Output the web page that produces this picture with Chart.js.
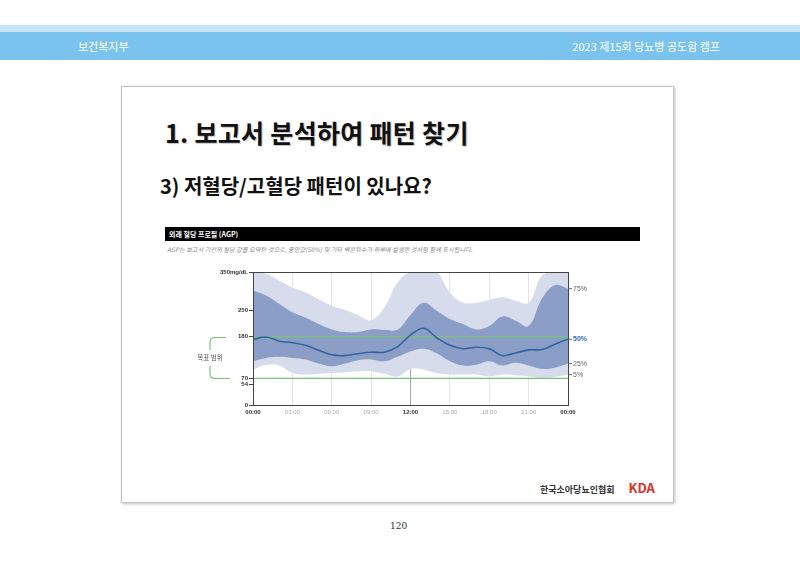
<!DOCTYPE html>
<html>
<head>
<meta charset="utf-8">
<script src="https://cdn.jsdelivr.net/npm/chart.js@4.4.1/dist/chart.umd.min.js"></script>
<style>
  body { margin: 0; width: 800px; height: 566px; background: #fff; position: relative; overflow: hidden;
         font-family: "Noto Sans CJK KR", "Noto Sans", sans-serif; }
  .strip { position: absolute; left: 0; top: 25px; width: 800px; height: 7px; background: #c6e5f8; }
  .band { position: absolute; left: 0; top: 32px; width: 800px; height: 28px; background: #7ac3ee; color: #fff; font-size: 11px; }
  .band .l { position: absolute; left: 78px; top: 6px; }
  .band .r { position: absolute; right: 80px; top: 6px; }
  .slide { position: absolute; left: 121px; top: 86px; width: 551px; height: 415px; border: 1px solid #c4c4c4;
           box-shadow: 1px 1px 3px rgba(0,0,0,0.25); background: #fff; }
  .title { position: absolute; left: 165px; top: 119px; font-size: 25px; font-weight: bold; color: #111;
           text-shadow: 1px 1px 1px rgba(0,0,0,0.25); letter-spacing: 0.3px; line-height: 1.1; }
  .sub { position: absolute; left: 160px; top: 175px; font-size: 20px; font-weight: bold; color: #111; line-height: 1.1; }
  .bar { position: absolute; left: 165px; top: 227px; width: 475px; height: 14px; background: #000; color: #fff;
         font-size: 7px; font-weight: bold; line-height: 14px; padding-left: 4px; box-sizing: border-box; }
  .note { position: absolute; left: 167px; top: 245px; font-size: 6.1px; font-style: italic; color: #888; letter-spacing: 0.1px; }
  .logo { position: absolute; left: 540px; top: 478px; font-size: 9px; color: #333; font-weight: bold; }
  .logo .k { color: #d9302a; font-size: 13px; font-weight: bold; margin-left: 14px; }
  .page { position: absolute; left: 390px; top: 521px; font-size: 9px; font-family: "DejaVu Serif", serif; color: #333; }
  #wrap { position: absolute; left: 160px; top: 262px; width: 440px; height: 160px; }
</style>
</head>
<body>
<div class="strip"></div>
<div class="band"><span class="l">보건복지부</span><span class="r">2023 제15회 당뇨병 공도함 캠프</span></div>
<div class="slide"></div>
<div class="title">1. 보고서 분석하여 패턴 찾기</div>
<div class="sub">3) 저혈당/고혈당 패턴이 있나요?</div>
<div class="bar">외래 혈당 프로필 (AGP)</div>
<div class="note">AGP는 보고서 기간의 혈당 값을 요약한 것으로, 중앙값(50%) 및 기타 백분위수가 하루에 발생한 것처럼 함께 표시됩니다.</div>
<div class="logo">한국소아당뇨인협회<span class="k">KDA</span></div>
<div class="page">120</div>
<div id="wrap"><canvas id="agp" width="440" height="160"></canvas></div>
<script>
// hours of the day and glucose percentiles (mg/dL)
const hours  = [0, 1, 2, 3, 4, 5, 6, 7, 8, 9, 10, 11, 12, 13, 14, 15, 16, 17, 18, 19, 20, 21, 22, 23, 24];
const p95    = [350, 346, 328, 310, 297, 279, 262, 251, 237, 224, 257, 323, 350, 350, 350, 297, 270, 270, 277, 284, 275, 270, 341, 350, 350];
const p75    = [301, 288, 266, 244, 230, 213, 199, 192, 192, 199, 198, 198, 237, 269, 248, 226, 213, 199, 208, 233, 222, 208, 279, 315, 306];
const median = [173, 179, 168, 164, 157, 144, 132, 130, 135, 139, 139, 153, 184, 202, 177, 157, 148, 152, 148, 130, 137, 145, 146, 160, 173];
const p25    = [115, 124, 127, 124, 120, 109, 102, 109, 118, 120, 115, 127, 141, 148, 136, 115, 104, 106, 115, 104, 111, 104, 95, 98, 109];
const p5     = [93, 106, 104, 84, 80, 82, 84, 86, 89, 89, 82, 75, 95, 93, 84, 80, 80, 80, 75, 80, 78, 75, 71, 74, 80];
const yTicks = [0, 54, 70, 180, 250, 350];
const targetHigh = 180;
const targetLow = 70;

const pts = arr => arr.map((v, i) => ({ x: hours[i], y: v }));
const flat = v => [{ x: hours[0], y: v }, { x: hours[hours.length - 1], y: v }];
const last = arr => arr[arr.length - 1];
const isMain = c => !!(c && c.tick && c.tick.value % 12 === 0);
const green = '#78c27a';

// plot box, target bracket and percentile labels
const agpDecor = {
    id: 'agpDecor',
    afterDraw(chart) {
        const { ctx, chartArea: a, scales: { y } } = chart;
        ctx.save();
        ctx.strokeStyle = '#444';
        ctx.lineWidth = 1;
        ctx.strokeRect(a.left + 0.5, a.top + 0.5, a.right - a.left, a.bottom - a.top);

        // bracket for target range
        const yh = Math.round(y.getPixelForValue(targetHigh)) + 0.5;
        const yl = Math.round(y.getPixelForValue(targetLow)) + 0.5;
        const bx = 50, r = 5, mid = (yh + yl) / 2;
        ctx.strokeStyle = green;
        ctx.lineWidth = 1.2;
        ctx.beginPath();
        ctx.moveTo(bx + 16, yh);
        ctx.lineTo(bx + r, yh);
        ctx.quadraticCurveTo(bx, yh, bx, yh + r);
        ctx.lineTo(bx, mid - 8);
        ctx.moveTo(bx, mid + 8);
        ctx.lineTo(bx, yl - r);
        ctx.quadraticCurveTo(bx, yl, bx + r, yl);
        ctx.lineTo(bx + 20, yl);
        ctx.stroke();
        ctx.fillStyle = '#555';
        ctx.font = '6.5px "Noto Sans CJK KR"';
        ctx.textAlign = 'center';
        ctx.textBaseline = 'middle';
        ctx.fillText('목표 범위', bx, mid);

        // percentile labels on the right
        const labels = [['75%', last(p75)], ['50%', last(median)], ['25%', last(p25)], ['5%', last(p5)]];
        ctx.textAlign = 'left';
        labels.forEach(([t, v]) => {
            const py = y.getPixelForValue(v);
            const is50 = t === '50%';
            ctx.strokeStyle = '#666';
            ctx.lineWidth = 1;
            ctx.beginPath();
            ctx.moveTo(a.right, py);
            ctx.lineTo(a.right + 4, py);
            ctx.stroke();
            ctx.fillStyle = is50 ? '#2d6aae' : '#666';
            ctx.font = (is50 ? 'bold ' : '') + '7px "Liberation Sans"';
            ctx.fillText(t, a.right + 5, py);
        });
        ctx.restore();
    }
};

new Chart(document.getElementById('agp'), {
    type: 'line',
    data: {
        datasets: [
            { label: '50%', data: pts(median), borderColor: '#33649f', borderWidth: 1.6, pointRadius: 0, tension: 0.4, fill: false },
            { label: 'high', data: flat(targetHigh), borderColor: green, borderWidth: 1.2, pointRadius: 0, fill: false },
            { label: 'low', data: flat(targetLow), borderColor: green, borderWidth: 1.2, pointRadius: 0, fill: false },
            { label: '75%', data: pts(p75), borderWidth: 0, pointRadius: 0, tension: 0.4, fill: 4, backgroundColor: '#8b9ec8' },
            { label: '25%', data: pts(p25), borderWidth: 0, pointRadius: 0, tension: 0.4, fill: false },
            { label: '95%', data: pts(p95), borderColor: 'rgba(255,255,255,0.9)', borderDash: [1.5, 1.5], borderWidth: 1,
              pointRadius: 0, tension: 0.4, fill: 6, backgroundColor: '#d7dcec' },
            { label: '5%', data: pts(p5), borderColor: 'rgba(255,255,255,0.9)', borderDash: [1.5, 1.5], borderWidth: 1,
              pointRadius: 0, tension: 0.4, fill: false }
        ]
    },
    options: {
        responsive: false,
        animation: false,
        layout: { padding: { left: 53, right: 32, top: 10, bottom: 3 } },
        scales: {
            x: {
                type: 'linear',
                min: 0,
                max: 24,
                afterFit: s => { s.height = 14; },
                border: { display: false },
                grid: {
                    drawTicks: false,
                    color: c => c && c.tick && c.tick.value === 12 ? '#a8a8a8' : '#e4e4e4'
                },
                ticks: {
                    stepSize: 3,
                    padding: 4,
                    maxRotation: 0,
                    color: c => isMain(c) ? '#333' : '#aaa',
                    font: c => ({ size: 6, family: 'Liberation Sans', weight: isMain(c) ? 'bold' : 'normal' }),
                    callback: v => String(v % 24).padStart(2, '0') + ':00'
                }
            },
            y: {
                min: 0,
                max: 350,
                afterFit: s => { s.width = 40; },
                afterBuildTicks: s => { s.ticks = yTicks.map(v => ({ value: v })); },
                border: { display: false },
                grid: { drawOnChartArea: false, tickLength: 4, color: '#444' },
                ticks: {
                    padding: 1,
                    color: '#333',
                    font: { size: 6, family: 'Liberation Sans', weight: 'bold' },
                    callback: v => v === 350 ? '350mg/dL' : v
                }
            }
        },
        plugins: {
            legend: { display: false },
            tooltip: { enabled: false }
        }
    },
    plugins: [agpDecor]
});
</script>
</body>
</html>
